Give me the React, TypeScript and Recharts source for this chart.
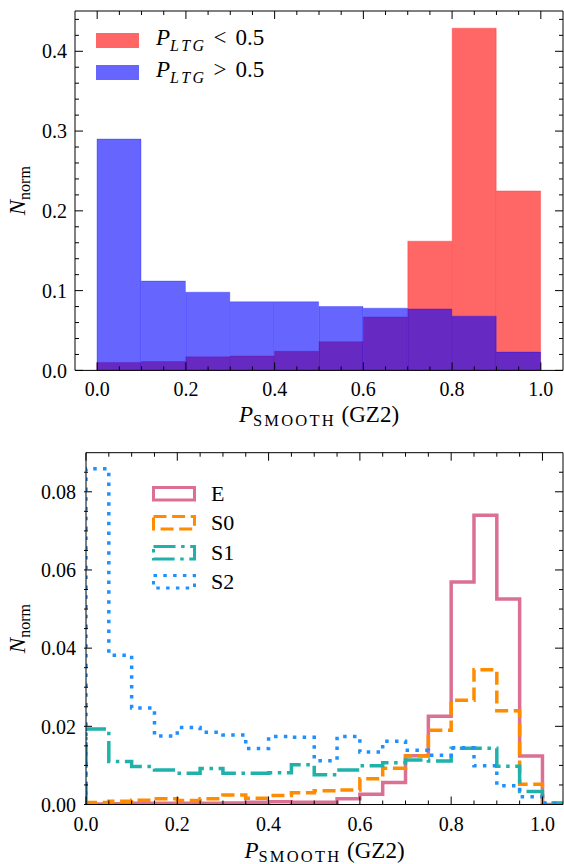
import React from "react";
import { ComposedChart, Bar, Line, XAxis, YAxis, Legend, Label } from "recharts";

const SERIF = "'Liberation Serif', 'DejaVu Serif', serif";
const INK = "#000";

// ---- top panel: P_SMOOTH split on P_LTG, bins of 0.1 ----
const topBinStarts = [0, 0.1, 0.2, 0.3, 0.4, 0.5, 0.6, 0.7, 0.8, 0.9];
const lowLtg = [0.010, 0.011, 0.017, 0.018, 0.024, 0.036, 0.067, 0.162, 0.429, 0.225];
const highLtg = [0.290, 0.112, 0.098, 0.086, 0.086, 0.080, 0.078, 0.077, 0.068, 0.023];

const topXMajor = [0, 0.2, 0.4, 0.6, 0.8, 1.0];
const topXTicks = [0, 0.05, 0.1, 0.15, 0.2, 0.25, 0.3, 0.35, 0.4, 0.45, 0.5, 0.55, 0.6, 0.65, 0.7, 0.75, 0.8, 0.85, 0.9, 0.95, 1.0];
const topYMajor = [0, 0.1, 0.2, 0.3, 0.4];
const topYTicks = [0, 0.02, 0.04, 0.06, 0.08, 0.1, 0.12, 0.14, 0.16, 0.18, 0.2, 0.22, 0.24, 0.26, 0.28, 0.3, 0.32, 0.34, 0.36, 0.38, 0.4, 0.42, 0.44];

// ---- bottom panel: step histograms per class, bins of 0.05 ----
const binStarts = [0, 0.05, 0.1, 0.15, 0.2, 0.25, 0.3, 0.35, 0.4, 0.45, 0.5, 0.55, 0.6, 0.65, 0.7, 0.75, 0.8, 0.85, 0.9, 0.95, 1.0];
const binEnd = 1.05;
const eVals = [0.0001, 0.0002, 0.0003, 0.0003, 0.0003, 0.0003, 0.0004, 0.0006, 0.0007, 0.0006, 0.0006, 0.0015, 0.0026, 0.0056, 0.0125, 0.0226, 0.0569, 0.0740, 0.0526, 0.0124, 0];
const s0Vals = [0.0005, 0.0008, 0.0011, 0.0015, 0.0010, 0.0015, 0.0024, 0.0016, 0.0023, 0.0030, 0.0035, 0.0037, 0.0066, 0.0093, 0.0124, 0.0190, 0.0267, 0.0345, 0.0240, 0.0052, 0.0004];
const s1Vals = [0.0193, 0.0110, 0.0097, 0.0088, 0.0080, 0.0092, 0.0080, 0.0080, 0.0081, 0.0102, 0.0076, 0.0088, 0.0099, 0.0107, 0.0114, 0.0111, 0.0144, 0.0144, 0.0098, 0.0033, 0.0003];
const s2Vals = [0.0859, 0.0382, 0.0247, 0.0175, 0.0197, 0.0185, 0.0178, 0.0143, 0.0174, 0.0172, 0.0112, 0.0174, 0.0134, 0.0162, 0.0139, 0.0126, 0.0145, 0.0099, 0.0048, 0.0020, 0.0003];

const botXMajor = [0, 0.2, 0.4, 0.6, 0.8, 1.0];
const botXTicks = [0, 0.05, 0.1, 0.15, 0.2, 0.25, 0.3, 0.35, 0.4, 0.45, 0.5, 0.55, 0.6, 0.65, 0.7, 0.75, 0.8, 0.85, 0.9, 0.95, 1.0];
const botYMajor = [0, 0.02, 0.04, 0.06, 0.08];
const botYTicks = [0, 0.005, 0.01, 0.015, 0.02, 0.025, 0.03, 0.035, 0.04, 0.045, 0.05, 0.055, 0.06, 0.065, 0.07, 0.075, 0.08, 0.085];

const topRows = topBinStarts.map((start, i) => ({ start, low: lowLtg[i], high: highLtg[i] }));

const stepRows = [
  { x: binStarts[0], E: 0, S0: 0, S1: 0, S2: 0 },
  ...binStarts.map((x, i) => ({ x, E: eVals[i], S0: s0Vals[i], S1: s1Vals[i], S2: s2Vals[i] })),
  { x: binEnd, E: 0, S0: 0, S1: 0, S2: 0 },
];

const stepKeys = ["E", "S0", "S1", "S2"];
const stepStyles: Record<string, { stroke: string; dash?: string }> = {
  E: { stroke: "#db7093" },
  S0: { stroke: "#ff8c00", dash: "13 5.6" },
  S1: { stroke: "#20b2aa", dash: "22 5.6 3.5 5.6" },
  S2: { stroke: "#1e90ff", dash: "3.5 6.3" },
};

const TICK_FONT = 20;
const MAJOR_LEN = 8;
const MINOR_LEN = 4;
const X_GAP = 11; // label top below the plot
const Y_GAP = 8; // label end left of the plot

const isIn = (list: number[], v: number) => list.some((m) => Math.abs(m - v) < 1e-9);

// inward ticks along the bottom, labels below for majors
function bottomTick(major: number[], digits: number) {
  return (props: any) => {
    const { x, y, payload } = props;
    const v = payload.value as number;
    const big = isIn(major, v);
    const base = y - X_GAP;
    return (
      <g>
        <line x1={x} x2={x} y1={base} y2={base - (big ? MAJOR_LEN : MINOR_LEN)} stroke={INK} />
        {big && (
          <text x={x} y={y} dy="0.75em" textAnchor="middle" fontFamily={SERIF} fontSize={TICK_FONT} fill={INK}>
            {v.toFixed(digits)}
          </text>
        )}
      </g>
    );
  };
}

function leftTick(major: number[], digits: number) {
  return (props: any) => {
    const { x, y, payload } = props;
    const v = payload.value as number;
    const big = isIn(major, v);
    const base = x + Y_GAP;
    return (
      <g>
        <line x1={base} x2={base + (big ? MAJOR_LEN : MINOR_LEN)} y1={y} y2={y} stroke={INK} />
        {big && (
          <text x={x} y={y} dy="0.36em" textAnchor="end" fontFamily={SERIF} fontSize={TICK_FONT} fill={INK}>
            {v.toFixed(digits)}
          </text>
        )}
      </g>
    );
  };
}

function topTick(major: number[]) {
  return (props: any) => {
    const { x, y, payload } = props;
    const len = isIn(major, payload.value) ? MAJOR_LEN : MINOR_LEN;
    return <line x1={x} x2={x} y1={y} y2={y + len} stroke={INK} />;
  };
}

function rightTick(major: number[]) {
  return (props: any) => {
    const { x, y, payload } = props;
    const len = isIn(major, payload.value) ? MAJOR_LEN : MINOR_LEN;
    return <line x1={x} x2={x - len} y1={y} y2={y} stroke={INK} />;
  };
}

function SmoothTitle({ viewBox, dy }: { viewBox?: any; dy: number }) {
  const vb = viewBox || { x: 0, y: 0, width: 0, height: 0 };
  return (
    <text x={vb.x + vb.width / 2} y={vb.y + dy} textAnchor="middle" fontFamily={SERIF} fontSize={23} fill={INK}>
      <tspan fontStyle="italic">P</tspan>
      <tspan fontSize={16.5} dy={4} letterSpacing={2.2}>SMOOTH</tspan>
      <tspan dy={-4}> (GZ2)</tspan>
    </text>
  );
}

function NormTitle({ viewBox }: { viewBox?: any }) {
  const vb = viewBox || { x: 0, y: 0, width: 0, height: 0 };
  const cx = vb.x + 25;
  const cy = vb.y + vb.height / 2;
  return (
    <text transform={`translate(${cx},${cy}) rotate(-90)`} textAnchor="middle" fontFamily={SERIF} fontSize={23} fill={INK}>
      <tspan fontStyle="italic">N</tspan>
      <tspan fontSize={16} dy={5}>norm</tspan>
    </text>
  );
}

const ltgLabels: Record<string, React.ReactNode> = {
  low: (
    <>
      <i>P</i>
      <sub style={{ fontSize: 16, letterSpacing: 2.5 }}><i>LTG</i></sub>
      <span style={{ margin: "0 9px 0 7px" }}>&lt;</span>0.5
    </>
  ),
  high: (
    <>
      <i>P</i>
      <sub style={{ fontSize: 16, letterSpacing: 2.5 }}><i>LTG</i></sub>
      <span style={{ margin: "0 9px 0 7px" }}>&gt;</span>0.5
    </>
  ),
};

function LtgLegend({ payload }: any) {
  const order = ["low", "high"];
  const entries = [...(payload ?? [])].sort((a: any, b: any) => order.indexOf(a.dataKey) - order.indexOf(b.dataKey));
  return (
    <div>
      {entries.map((e: any) => (
        <div key={e.dataKey} style={{ display: "flex", alignItems: "center", height: 32 }}>
          <span style={{ display: "inline-block", width: 43, height: 15, background: e.color, opacity: 0.6 }} />
          <span style={{ marginLeft: 17, fontSize: 23, fontFamily: SERIF, color: INK, lineHeight: 1, whiteSpace: "nowrap" }}>
            {ltgLabels[e.dataKey]}
          </span>
        </div>
      ))}
    </div>
  );
}

function StepLegend({ payload }: any) {
  const entries = [...(payload ?? [])].sort((a: any, b: any) => stepKeys.indexOf(a.dataKey) - stepKeys.indexOf(b.dataKey));
  return (
    <div>
      {entries.map((e: any) => {
        const st = stepStyles[e.dataKey];
        return (
          <div key={e.dataKey} style={{ display: "flex", alignItems: "center", height: 29.5 }}>
            <svg width={44} height={16} style={{ display: "block" }}>
              <rect x={1.5} y={1.5} width={41} height={12.5} fill="none" stroke={st.stroke} strokeWidth={3} strokeDasharray={st.dash} />
            </svg>
            <span style={{ marginLeft: 15, fontSize: 22, fontFamily: SERIF, color: INK, lineHeight: 1 }}>{e.value}</span>
          </div>
        );
      })}
    </div>
  );
}

function TopPanel() {
  const xDom: [number, number] = [-0.05, 1.05];
  const yDom: [number, number] = [0, 0.4505];
  return (
    <ComposedChart width={564} height={440} data={topRows} margin={{ top: 11, right: 1, bottom: 0, left: 0 }} barCategoryGap={0} barGap={0}>
      <XAxis xAxisId="low" dataKey="start" type="category" hide height={0} padding={{ left: 22, right: 22 }} />
      <XAxis xAxisId="high" dataKey="start" type="category" hide height={0} padding={{ left: 22, right: 22 }} />
      <XAxis
        xAxisId="p"
        dataKey="start"
        type="number"
        domain={xDom}
        allowDataOverflow
        ticks={topXTicks}
        interval={0}
        height={69.6}
        tickSize={0}
        tickMargin={X_GAP}
        tickLine={false}
        tick={bottomTick(topXMajor, 1)}
        axisLine={{ stroke: INK }}
      >
        <Label content={(p: any) => <SmoothTitle viewBox={p.viewBox} dy={52} />} />
      </XAxis>
      <XAxis
        xAxisId="pTop"
        dataKey="start"
        type="number"
        orientation="top"
        mirror
        height={1}
        domain={xDom}
        allowDataOverflow
        ticks={topXTicks}
        interval={0}
        tickSize={0}
        tickMargin={0}
        tickLine={false}
        tick={topTick(topXMajor)}
        axisLine={{ stroke: INK }}
      />
      <YAxis
        yAxisId="n"
        type="number"
        domain={yDom}
        allowDataOverflow
        ticks={topYTicks}
        interval={0}
        width={75}
        tickSize={0}
        tickMargin={Y_GAP}
        tickLine={false}
        tick={leftTick(topYMajor, 1)}
        axisLine={{ stroke: INK }}
      >
        <Label content={(p: any) => <NormTitle viewBox={p.viewBox} />} />
      </YAxis>
      <YAxis
        yAxisId="nR"
        type="number"
        orientation="right"
        mirror
        width={1}
        domain={yDom}
        allowDataOverflow
        ticks={topYTicks}
        interval={0}
        tickSize={0}
        tickMargin={0}
        tickLine={false}
        tick={rightTick(topYMajor)}
        axisLine={{ stroke: INK }}
      />
      <Bar
        xAxisId="low"
        yAxisId="n"
        dataKey="low"
        name="P_LTG < 0.5"
        fill="#ff0000"
        fillOpacity={0.6}
        stroke="#ff0000"
        strokeOpacity={0.35}
        strokeWidth={0.8}
        isAnimationActive={false}
      />
      <Bar
        xAxisId="high"
        yAxisId="n"
        dataKey="high"
        name="P_LTG > 0.5"
        fill="#0000ff"
        fillOpacity={0.6}
        stroke="#0000ff"
        strokeOpacity={0.35}
        strokeWidth={0.8}
        isAnimationActive={false}
      />
      <Legend
        content={(p: any) => <LtgLegend payload={p.payload} />}
        layout="horizontal"
        verticalAlign="middle"
        align="center"
        wrapperStyle={{ left: 96, top: 24, width: 280 }}
      />
    </ComposedChart>
  );
}

function BottomPanel() {
  const xDom: [number, number] = [0, 1.045];
  const yDom: [number, number] = [0, 0.09];
  return (
    <ComposedChart width={564} height={424} data={stepRows} margin={{ top: 12.7, right: 1, bottom: 0, left: 0 }}>
      <XAxis
        xAxisId="p"
        dataKey="x"
        type="number"
        domain={xDom}
        allowDataOverflow
        ticks={botXTicks}
        interval={0}
        height={59.5}
        tickSize={0}
        tickMargin={X_GAP}
        tickLine={false}
        tick={bottomTick(botXMajor, 1)}
        axisLine={{ stroke: INK }}
      >
        <Label content={(p: any) => <SmoothTitle viewBox={p.viewBox} dy={53} />} />
      </XAxis>
      <XAxis
        xAxisId="pTop"
        dataKey="x"
        type="number"
        orientation="top"
        mirror
        height={1}
        domain={xDom}
        allowDataOverflow
        ticks={botXTicks}
        interval={0}
        tickSize={0}
        tickMargin={0}
        tickLine={false}
        tick={topTick(botXMajor)}
        axisLine={{ stroke: INK }}
      />
      <YAxis
        yAxisId="n"
        type="number"
        domain={yDom}
        allowDataOverflow
        ticks={botYTicks}
        interval={0}
        width={86}
        tickSize={0}
        tickMargin={Y_GAP + 2}
        tickLine={false}
        tick={leftTick(botYMajor, 2)}
        axisLine={{ stroke: INK }}
      >
        <Label content={(p: any) => <NormTitle viewBox={p.viewBox} />} />
      </YAxis>
      <YAxis
        yAxisId="nR"
        type="number"
        orientation="right"
        mirror
        width={1}
        domain={yDom}
        allowDataOverflow
        ticks={botYTicks}
        interval={0}
        tickSize={0}
        tickMargin={0}
        tickLine={false}
        tick={rightTick(botYMajor)}
        axisLine={{ stroke: INK }}
      />
      {stepKeys.map((k) => (
        <Line
          key={k}
          xAxisId="p"
          yAxisId="n"
          dataKey={k}
          name={k}
          type="stepAfter"
          stroke={stepStyles[k].stroke}
          strokeWidth={3.5}
          strokeDasharray={stepStyles[k].dash}
          strokeLinejoin="miter"
          dot={false}
          activeDot={false}
          isAnimationActive={false}
        />
      ))}
      <Legend
        content={(p: any) => <StepLegend payload={p.payload} />}
        layout="horizontal"
        verticalAlign="middle"
        align="center"
        wrapperStyle={{ left: 152, top: 39, width: 120 }}
      />
    </ComposedChart>
  );
}

export default function App() {
  return (
    <div style={{ position: "absolute", left: 0, top: 0, width: 564, height: 864, background: "#fff", fontFamily: SERIF }}>
      <div style={{ position: "absolute", left: 0, top: 0 }}>
        <TopPanel />
      </div>
      <div style={{ position: "absolute", left: 0, top: 440 }}>
        <BottomPanel />
      </div>
    </div>
  );
}
